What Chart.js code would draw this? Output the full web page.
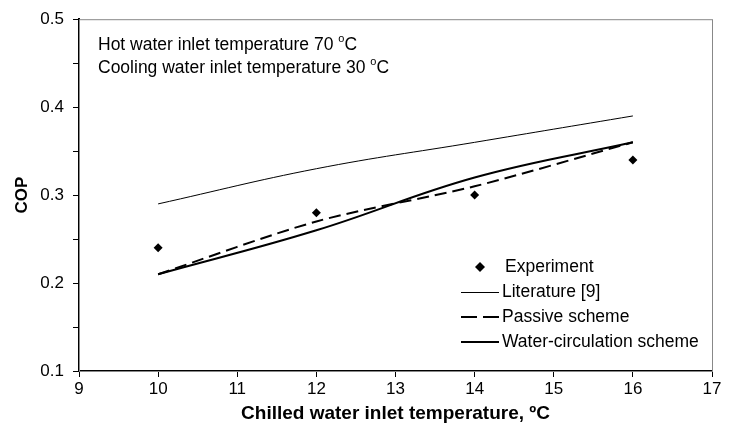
<!DOCTYPE html>
<html>
<head>
<meta charset="utf-8">
<script src="https://cdn.jsdelivr.net/npm/chart.js@4.4.1/dist/chart.umd.min.js"></script>
<style>
  html, body { margin: 0; padding: 0; background: #fff; }
  #wrap { width: 729px; height: 435px; }
</style>
</head>
<body>
<div id="wrap"><canvas id="chartjs-0" width="729" height="435"></canvas></div>
<script>
// data
var temps = [10, 12, 14, 16];
var experiment = [0.24, 0.28, 0.30, 0.34];
var literature = [0.29, 0.33, 0.36, 0.39];
var passive = [0.21, 0.27, 0.31, 0.36];
var waterCirculation = [0.21, 0.26, 0.32, 0.36];

var seriesNames = ["Experiment", "Literature [9]", "Passive scheme", "Water-circulation scheme"];
var noteLines = [["Hot water inlet temperature 70 ", "C"], ["Cooling water inlet temperature 30 ", "C"]];

var FONT = "'Liberation Sans', Arial, sans-serif";

function pairs(ys) {
    var out = [];
    for (var i = 0; i < temps.length; i++) {
        out.push({x: temps[i], y: ys[i]});
    }
    return out;
}

// gray frame on top/right, like the Excel plot area
var frame = {
    id: "frame",
    beforeDatasetsDraw: function(chart) {
        var a = chart.chartArea, c = chart.ctx;
        c.save();
        c.strokeStyle = "#888";
        c.lineWidth = 1;
        c.strokeRect(a.left + 0.5, a.top + 0.5, a.right - a.left, a.bottom - a.top);
        c.restore();
    }
};

// text notes + legend inside the plot
var notes = {
    id: "notes",
    afterDraw: function(chart) {
        var c = chart.ctx;
        var a = chart.chartArea;
        c.save();
        c.fillStyle = "#000";
        c.textBaseline = "alphabetic";
        for (var i = 0; i < noteLines.length; i++) {
            var x = a.left + 19, y = a.top + 31 + i * 23;
            c.font = "17.5px " + FONT;
            c.fillText(noteLines[i][0], x, y);
            var w = c.measureText(noteLines[i][0]).width;
            c.font = "11px " + FONT;
            c.fillText("o", x + w, y - 8);
            var w2 = c.measureText("o").width;
            c.font = "17.5px " + FONT;
            c.fillText(noteLines[i][1], x + w + w2, y);
        }

        // legend
        var lx = 461, lx2 = 499, ty = 267, step = 25;
        c.textBaseline = "middle";
        c.font = "17.5px " + FONT;
        for (var k = 0; k < seriesNames.length; k++) {
            var ds = chart.data.datasets[k];
            var yy = ty + k * step;
            if (k === 0) {
                var cx = (lx + lx2) / 2;
                c.beginPath();
                c.moveTo(cx, yy - 5);
                c.lineTo(cx + 5, yy);
                c.lineTo(cx, yy + 5);
                c.lineTo(cx - 5, yy);
                c.closePath();
                c.fill();
                c.fillText(seriesNames[k], 505, yy);
            } else {
                c.beginPath();
                c.strokeStyle = ds.borderColor;
                c.lineWidth = ds.borderWidth;
                c.setLineDash(ds.borderDash ? [16, 6] : []);
                c.moveTo(lx, Math.round(yy) + (ds.borderWidth === 1 ? 0.5 : 0));
                c.lineTo(lx2, Math.round(yy) + (ds.borderWidth === 1 ? 0.5 : 0));
                c.stroke();
                c.setLineDash([]);
                c.fillText(seriesNames[k], 502, yy);
            }
        }
        c.restore();
    }
};

var ctx0 = document.getElementById("chartjs-0");
var myChart = new Chart(ctx0, {
    type: "line",
    data: {
        datasets: [
            {label: seriesNames[0], data: pairs(experiment), showLine: false,
             pointStyle: "rectRot", pointRadius: 4.5, backgroundColor: "#000", borderColor: "#000", borderWidth: 0},
            {label: seriesNames[1], data: pairs(literature), borderColor: "#000", borderWidth: 1,
             pointRadius: 0, tension: 0.4, fill: false},
            {label: seriesNames[2], data: pairs(passive), borderColor: "#000", borderWidth: 2,
             borderDash: [12, 6], pointRadius: 0, tension: 0.3, fill: false},
            {label: seriesNames[3], data: pairs(waterCirculation), borderColor: "#000", borderWidth: 2,
             pointRadius: 0, tension: 0.4, fill: false}
        ]
    },
    options: {
        responsive: false,
        animation: false,
        layout: {padding: {left: 0, right: 17, top: 15, bottom: 0}},
        plugins: {
            legend: {display: false},
            tooltip: {enabled: false}
        },
        scales: {
            x: {
                type: "linear",
                min: 9, max: 17,
                afterFit: function(s) { s.height = 64; },
                ticks: {stepSize: 1, color: "#000", padding: 2, font: {family: FONT, size: 17}},
                grid: {drawOnChartArea: false, tickLength: 6, color: "#000", tickWidth: 1},
                border: {color: "#000", width: 2},
                title: {display: true, text: "Chilled water inlet temperature, ºC", color: "#000",
                        font: {family: FONT, size: 19, weight: "bold"}, padding: {top: 0, bottom: 10}}
            },
            y: {
                min: 0.1, max: 0.5,
                afterFit: function(s) { s.width = 79; },
                ticks: {
                    stepSize: 0.05, color: "#000", padding: 9, font: {family: FONT, size: 17},
                    callback: function(v) {
                        var t = Math.round(v * 100);
                        return (t % 10 === 0) ? (t / 100).toFixed(1) : "";
                    }
                },
                grid: {drawOnChartArea: false, tickLength: 6, color: "#000", tickWidth: 1},
                border: {color: "#000", width: 2},
                title: {display: true, text: "COP", color: "#000",
                        font: {family: FONT, size: 17, weight: "bold"}, padding: {top: 12, bottom: 0}}
            }
        }
    },
    plugins: [frame, notes]
});
</script>
</body>
</html>
